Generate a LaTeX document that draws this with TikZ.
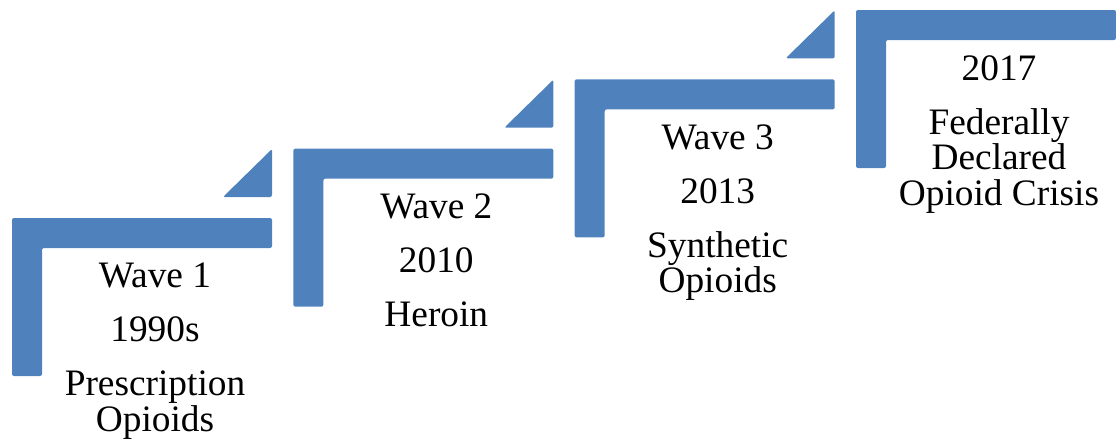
\documentclass[tikz,border=0pt]{standalone}
\usepackage{fontspec}
\setmainfont{Liberation Serif}
\usetikzlibrary{positioning}
\definecolor{stepblue}{HTML}{4F81BD}

\begin{document}
\begin{tikzpicture}[
  x=0.75pt, y=-0.75pt,
  stepshape/.style={fill=stepblue, rounded corners=1.5pt},
  wavetext/.style={align=center, inner sep=0pt, anchor=north, font=\fontsize{28}{26.75}\selectfont}
]
\useasboundingbox (0,0) rectangle (1116,440);

% steps and corner triangles
\foreach \i in {0,1,2,3} {
  \pgfmathsetmacro{\L}{12+281.33*\i}
  \pgfmathsetmacro{\T}{218-69.33*\i}
  \path[stepshape] (\L,\T) -- (\L+260,\T) -- (\L+260,\T+30) -- (\L+30,\T+30)
    -- (\L+30,\T+158) -- (\L,\T+158) -- cycle;
  \path[stepshape] (\L+211,\T-21) -- (\L+260,\T-21) -- (\L+260,\T-69) -- cycle;
}

\node[wavetext] (wave1) at (155,263) {Wave 1\\[13.75pt]1990s\\[13.75pt]Prescription\\Opioids};
\node[wavetext] (wave2) at (436.3,193.7) {Wave 2\\[13.75pt]2010\\[13.75pt]Heroin};
\node[wavetext] (wave3) at (717.7,124.3) {Wave 3\\[13.75pt]2013\\[13.75pt]Synthetic\\Opioids};
\node[wavetext] (wave4) at (999,55) {2017\\[13.75pt]Federally\\Declared\\Opioid Crisis};
\end{tikzpicture}
\end{document}
